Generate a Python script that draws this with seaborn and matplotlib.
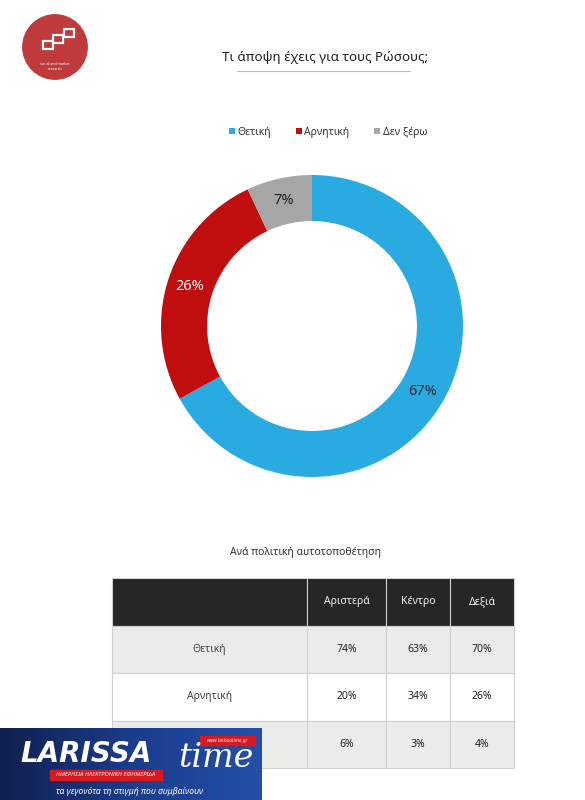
import numpy as np
import matplotlib
matplotlib.use('Agg')
import matplotlib.pyplot as plt
import seaborn as sns
from matplotlib.patches import Circle, Rectangle, Patch

# Donut data
answers = ['Θετική', 'Αρνητική', 'Δεν ξέρω']
shares = [67, 26, 7]
colors = ['#29ABE2', '#C00D0D', '#A6A6A6']
label_colors = ['#1F2A33', 'white', '#222222']

# Table by political self-placement
groups = ['Αριστερά', 'Κέντρο', 'Δεξιά']
left_vals = [74, 20, 6]
centre_vals = [63, 34, 3]
right_vals = [70, 26, 4]

title = 'Τι άποψη έχεις για τους Ρώσους;'
subtitle = 'Ανά πολιτική αυτοτοποθέτηση'

sns.set_theme(style='white')
plt.rcParams['font.family'] = ['Noto Sans', 'DejaVu Sans']

W, H = 585, 800
fig = plt.figure(figsize=(W / 100, H / 100), dpi=100)
fig.patch.set_facecolor('white')


def px_axes(x0, y0, x1, y1):
    """axes from pixel box (top-left origin)"""
    return fig.add_axes([x0 / W, 1 - y1 / H, (x1 - x0) / W, (y1 - y0) / H])


# title + underline
fig.text(325 / W, 1 - 57 / H, title, ha='center', va='center',
         fontsize=9.6, color='#222222')
fig.add_artist(plt.Line2D([237 / W, 410 / W], [1 - 71 / H, 1 - 71 / H],
                          color='#BFBFBF', lw=0.8))

# logo
lax = px_axes(20, 12, 90, 82)
lax.set_xlim(-1, 1)
lax.set_ylim(-1, 1)
lax.axis('off')
lax.add_patch(Circle((0, 0), 0.92, color='#C0393B'))
for dx, dy in [(-0.35, -0.05), (-0.05, 0.12), (0.25, 0.3)]:
    lax.add_patch(Rectangle((dx, dy), 0.28, 0.22, fill=False, ec='white', lw=1.6))
lax.text(0, -0.55, 'social and market\nresearch', ha='center', va='center',
         fontsize=2.6, color='white')

# donut
cx, cy, r = 312, 326, 151
ax = px_axes(cx - r, cy - r, cx + r, cy + r)
wedges, _, autotexts = ax.pie(
    shares, colors=colors, startangle=90, counterclock=False,
    autopct=lambda p: f'{p:.0f}%', pctdistance=0.85,
    wedgeprops=dict(width=0.305, edgecolor='none', linewidth=0),
    textprops=dict(fontsize=10.5))
for t, c in zip(autotexts, label_colors):
    t.set_color(c)
ax.set_xlim(-1, 1)
ax.set_ylim(-1, 1)
ax.set_aspect('equal')

handles = [Patch(facecolor=c, edgecolor='none') for c in colors]
fig.legend(handles, answers, loc='center', bbox_to_anchor=(328 / W, 1 - 132 / H),
           ncol=3, frameon=False, fontsize=7.5, handlelength=0.6, handleheight=0.6,
           handletextpad=0.2, columnspacing=2.4, labelcolor='#333333')

# table
fig.text(305 / W, 1 - 553 / H, subtitle, ha='center', va='center',
         fontsize=7.5, color='#333333')
tax = px_axes(112, 578, 514, 768)
tax.axis('off')
cell_text = [[answers[i], f'{left_vals[i]}%', f'{centre_vals[i]}%', f'{right_vals[i]}%']
             for i in range(len(answers))]
tbl = tax.table(cellText=cell_text, colLabels=[''] + groups,
                colWidths=[195, 79, 64, 64], cellLoc='center', bbox=[0, 0, 1, 1])
tbl.auto_set_font_size(False)
tbl.set_fontsize(7.5)
for (row, col), cell in tbl.get_celld().items():
    cell.set_edgecolor('#D0D0D0')
    cell.set_linewidth(0.8)
    if row == 0:
        cell.set_facecolor('#262626')
        cell.get_text().set_color('#F2F2F2')
    else:
        cell.set_facecolor('#EBEBEA' if row % 2 == 1 else 'white')
        cell.get_text().set_color('#444444' if col == 0 else '#222222')

# watermark banner
bax = px_axes(0, 728, 262, 800)
bax.set_xlim(0, 262)
bax.set_ylim(72, 0)
bax.axis('off')
grad = np.linspace(0, 1, 256)[None, :]
bax.imshow(grad, extent=[0, 262, 72, 0], aspect='auto',
           cmap=matplotlib.colors.LinearSegmentedColormap.from_list(
               'b', ['#10204E', '#1B3C8C', '#2450A8']))
bax.text(20, 26, 'LARISSA', fontsize=20, fontweight='bold', style='italic',
         color='white', va='center', ha='left', family='DejaVu Sans')
bax.text(178, 30, 'time', fontsize=24, style='italic', color='white',
         va='center', ha='left', family='DejaVu Serif')
bax.add_patch(Rectangle((50, 42), 112, 10, color='#D71920'))
bax.text(106, 47, 'ΗΜΕΡΗΣΙΑ ΗΛΕΚΤΡΟΝΙΚΗ ΕΦΗΜΕΡΙΔΑ', fontsize=4.2,
         fontweight='bold', style='italic', color='white', ha='center', va='center')
bax.add_patch(Rectangle((200, 8), 55, 9, color='#D71920'))
bax.text(227, 12.5, 'www.larissatime.gr', fontsize=3.5, style='italic',
         color='white', ha='center', va='center', fontweight='bold')
bax.text(130, 63, 'τα γεγονότα τη στιγμή που συμβαίνουν', fontsize=6.2,
         style='italic', color='white', ha='center', va='center')

fig.savefig('out.png', dpi=100)
